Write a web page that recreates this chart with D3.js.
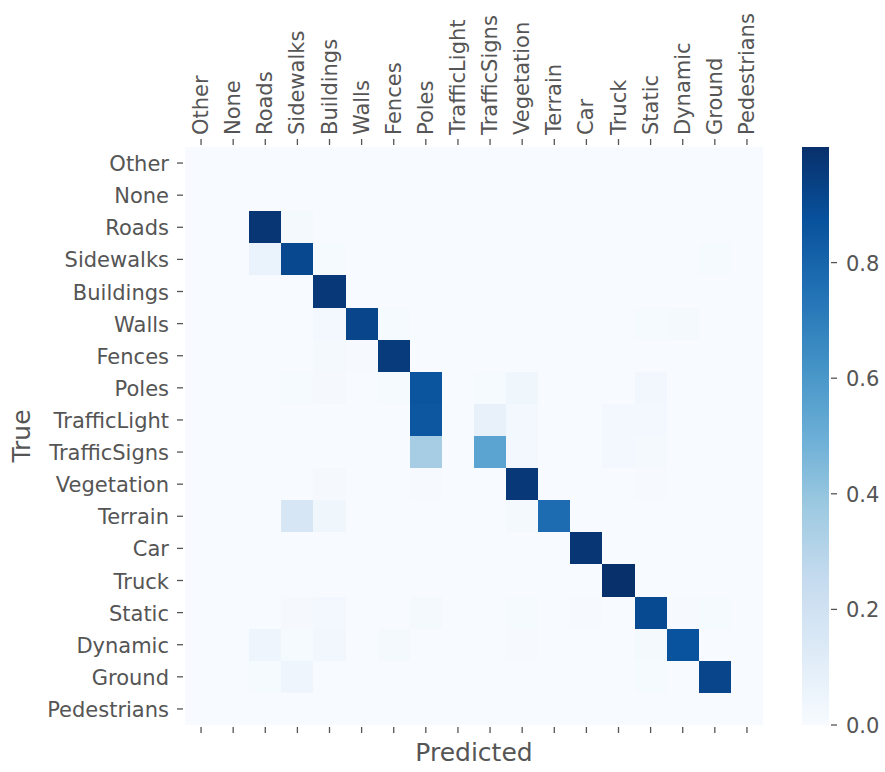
<!DOCTYPE html>
<html>
<head>
<meta charset="utf-8">
<script src="https://cdn.jsdelivr.net/npm/d3@7"></script>
<style>
  html, body { margin: 0; padding: 0; background: #ffffff; }
  svg { display: block; font-family: "DejaVu Sans", sans-serif; }
</style>
</head>
<body>
<svg id="chart" width="885" height="772"></svg>
<script>
// Class names (rows = true class, columns = predicted class)
const classes = ["Other", "None", "Roads", "Sidewalks", "Buildings", "Walls", "Fences",
  "Poles", "TrafficLight", "TrafficSigns", "Vegetation", "Terrain", "Car", "Truck",
  "Static", "Dynamic", "Ground", "Pedestrians"];

// Normalised confusion matrix, one row per true class
const matrix = [
  /* Other        */ [0, 0, 0, 0, 0, 0, 0, 0, 0, 0, 0, 0, 0, 0, 0, 0, 0, 0],
  /* None         */ [0, 0, 0, 0, 0, 0, 0, 0, 0, 0, 0, 0, 0, 0, 0, 0, 0, 0],
  /* Roads        */ [0, 0, 0.98, 0.015, 0, 0, 0, 0, 0, 0, 0, 0, 0, 0, 0, 0, 0, 0],
  /* Sidewalks    */ [0, 0, 0.065, 0.91, 0.008, 0, 0, 0, 0, 0, 0, 0, 0, 0, 0, 0, 0.01, 0],
  /* Buildings    */ [0, 0, 0, 0, 0.97, 0, 0, 0, 0, 0, 0, 0, 0, 0, 0, 0, 0, 0],
  /* Walls        */ [0, 0, 0, 0, 0.02, 0.92, 0.01, 0, 0, 0, 0, 0, 0, 0, 0.01, 0.015, 0, 0],
  /* Fences       */ [0, 0, 0, 0, 0.015, 0.005, 0.96, 0, 0, 0, 0, 0, 0, 0, 0, 0, 0, 0],
  /* Poles        */ [0, 0, 0, 0.01, 0.012, 0, 0.01, 0.86, 0, 0.01, 0.04, 0, 0, 0, 0.03, 0, 0, 0],
  /* TrafficLight */ [0, 0, 0, 0, 0, 0, 0, 0.85, 0, 0.075, 0.02, 0, 0, 0.02, 0.025, 0, 0, 0],
  /* TrafficSigns */ [0, 0, 0, 0, 0, 0, 0, 0.35, 0, 0.55, 0.025, 0, 0, 0.02, 0.015, 0, 0, 0],
  /* Vegetation   */ [0, 0, 0, 0, 0.012, 0, 0, 0.006, 0, 0, 0.97, 0, 0, 0, 0.006, 0, 0, 0],
  /* Terrain      */ [0, 0, 0, 0.165, 0.04, 0, 0, 0, 0, 0, 0.015, 0.77, 0, 0, 0, 0, 0, 0],
  /* Car          */ [0, 0, 0, 0, 0, 0, 0, 0, 0, 0, 0, 0, 0.98, 0, 0, 0, 0, 0],
  /* Truck        */ [0, 0, 0, 0, 0, 0, 0, 0, 0, 0, 0, 0, 0, 1.0, 0, 0, 0, 0],
  /* Static       */ [0, 0, 0, 0.012, 0.025, 0, 0, 0.015, 0, 0, 0.01, 0, 0.006, 0, 0.9, 0.005, 0.01, 0],
  /* Dynamic      */ [0, 0, 0.045, 0.01, 0.03, 0, 0.015, 0, 0, 0, 0.005, 0, 0, 0, 0.015, 0.87, 0, 0],
  /* Ground       */ [0, 0, 0.01, 0.045, 0, 0, 0, 0, 0, 0, 0, 0, 0, 0, 0.01, 0, 0.92, 0],
  /* Pedestrians  */ [0, 0, 0, 0, 0, 0, 0, 0, 0, 0, 0, 0, 0, 0, 0, 0, 0, 0]
];

// Colour bar ticks
const colorTicks = [0, 0.2, 0.4, 0.6, 0.8];

// Blues palette stops (ColorBrewer 9-class)
const bluesStops = ["#f7fbff", "#deebf7", "#c6dbef", "#9ecae1", "#6baed6",
  "#4292c6", "#2171b5", "#08519c", "#08306b"];

const svg = d3.select("#chart");
const textColor = "#555555";
const tickFont = 21;
const titleFont = 25;

const plotLeft = 185, plotRight = 763, plotTop = 147, plotBottom = 725;

const vmin = 0;
const vmax = d3.max(matrix.flat());

const x = d3.scaleBand().domain(classes).range([plotLeft, plotRight]);
const y = d3.scaleBand().domain(classes).range([plotTop, plotBottom]);

const color = d3.scaleLinear()
  .domain(bluesStops.map((_, i) => vmin + (vmax - vmin) * i / (bluesStops.length - 1)))
  .range(bluesStops)
  .interpolate(d3.interpolateRgb)
  .clamp(true);

// Heatmap cells
const cells = [];
matrix.forEach((row, i) => row.forEach((v, j) => cells.push({ t: classes[i], p: classes[j], v })));

svg.append("g").selectAll("rect")
  .data(cells)
  .join("rect")
  .attr("x", d => x(d.p))
  .attr("y", d => y(d.t))
  .attr("width", x.bandwidth() + 0.3)
  .attr("height", y.bandwidth() + 0.3)
  .attr("fill", d => color(d.v))
  .attr("shape-rendering", "crispEdges");

// Left axis (true classes)
const gl = svg.append("g");
classes.forEach(c => {
  const cy = y(c) + y.bandwidth() / 2;
  gl.append("line")
    .attr("x1", plotLeft - 8).attr("x2", plotLeft - 2)
    .attr("y1", cy).attr("y2", cy)
    .attr("stroke", textColor).attr("stroke-width", 1.3);
  gl.append("text")
    .attr("x", plotLeft - 16).attr("y", cy)
    .attr("dy", "0.05em")
    .attr("text-anchor", "end")
    .attr("dominant-baseline", "central")
    .attr("font-size", tickFont)
    .attr("fill", textColor)
    .text(c);
});

// Top axis (predicted classes, rotated labels)
const gt = svg.append("g");
classes.forEach(c => {
  const cx = x(c) + x.bandwidth() / 2;
  gt.append("line")
    .attr("x1", cx).attr("x2", cx)
    .attr("y1", plotTop - 8).attr("y2", plotTop - 2)
    .attr("stroke", textColor).attr("stroke-width", 1.3);
  gt.append("text")
    .attr("transform", `translate(${cx},${plotTop - 12}) rotate(-90)`)
    .attr("text-anchor", "start")
    .attr("dominant-baseline", "central")
    .attr("font-size", tickFont)
    .attr("fill", textColor)
    .text(c);
});

// Bottom ticks (no labels)
const gb = svg.append("g");
classes.forEach(c => {
  const cx = x(c) + x.bandwidth() / 2;
  gb.append("line")
    .attr("x1", cx).attr("x2", cx)
    .attr("y1", plotBottom + 2).attr("y2", plotBottom + 8)
    .attr("stroke", textColor).attr("stroke-width", 1.3);
});

// Axis titles
svg.append("text")
  .attr("x", (plotLeft + plotRight) / 2).attr("y", 761)
  .attr("text-anchor", "middle")
  .attr("font-size", titleFont)
  .attr("fill", textColor)
  .text("Predicted");

svg.append("text")
  .attr("transform", `translate(21,${(plotTop + plotBottom) / 2}) rotate(-90)`)
  .attr("text-anchor", "middle")
  .attr("dominant-baseline", "central")
  .attr("font-size", titleFont)
  .attr("fill", textColor)
  .text("True");

// Colour bar
const cbLeft = 802, cbRight = 829;
const cbScale = d3.scaleLinear().domain([vmin, vmax]).range([plotBottom, plotTop]);

const defs = svg.append("defs");
const grad = defs.append("linearGradient")
  .attr("id", "cbgrad")
  .attr("x1", 0).attr("y1", 1).attr("x2", 0).attr("y2", 0);
bluesStops.forEach((c, i) => {
  grad.append("stop")
    .attr("offset", i / (bluesStops.length - 1))
    .attr("stop-color", c);
});

svg.append("rect")
  .attr("x", cbLeft).attr("y", plotTop)
  .attr("width", cbRight - cbLeft).attr("height", plotBottom - plotTop)
  .attr("fill", "url(#cbgrad)");

const gc = svg.append("g");
colorTicks.forEach(t => {
  const ty = cbScale(t);
  gc.append("line")
    .attr("x1", cbRight + 2).attr("x2", cbRight + 8)
    .attr("y1", ty).attr("y2", ty)
    .attr("stroke", textColor).attr("stroke-width", 1.3);
  gc.append("text")
    .attr("x", cbRight + 17).attr("y", ty)
    .attr("dy", "0.05em")
    .attr("dominant-baseline", "central")
    .attr("font-size", tickFont)
    .attr("fill", textColor)
    .text(t.toFixed(1));
});
</script>
</body>
</html>
